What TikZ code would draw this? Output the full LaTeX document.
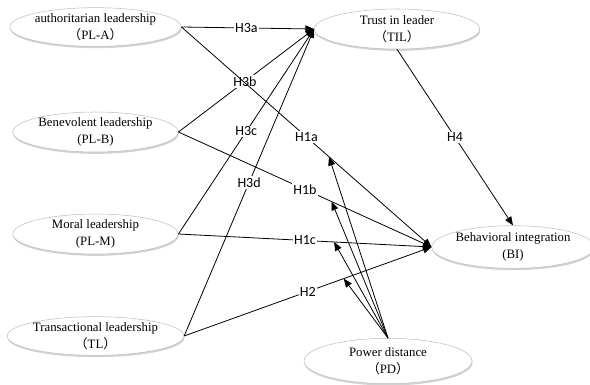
\documentclass[tikz,border=0pt]{standalone}
\usepackage{fontspec}
\setmainfont{Liberation Serif}
\newfontfamily\labfont{Carlito}
\newfontfamily\cjk{Noto Sans CJK SC}
\usepackage{tikz}
\usetikzlibrary{arrows.meta,shapes.geometric,shadows}
\definecolor{rimgray}{RGB}{190,190,190}
\newcommand{\lp}{{\cjk （}}
\newcommand{\rp}{{\cjk ）}}

\begin{document}
\begin{tikzpicture}[x=0.75pt,y=-0.75pt,
    varbox/.style={ellipse,draw=rimgray,fill=white,inner sep=0pt,
      minimum width=124pt,minimum height=29pt,align=center,
      font=\fontsize{9.6}{12.5}\selectfont,
      drop shadow={shadow xshift=0.4pt,shadow yshift=-1.4pt,opacity=0.35,fill=gray}},
    hyp/.style={fill=white,inner sep=1pt,font=\labfont\fontsize{10.5}{12}\selectfont},
    link/.style={-{Triangle[length=6.5pt,width=5.2pt]},line width=0.6pt}]
  \useasboundingbox (0,0) rectangle (590,385);
  % leadership styles
  \node[varbox] (pla) at (95.5,27) {authoritarian leadership\\\lp PL-A\rp};
  \node[varbox] (plb) at (95.5,132) {Benevolent leadership\\(PL-B)};
  \node[varbox] (plm) at (95.5,234) {Moral leadership\\(PL-M)};
  \node[varbox] (tl) at (95.5,336) {Transactional leadership\\\lp TL\rp};
  % mediator, outcome, moderator
  \node[varbox,minimum height=30pt] (til) at (397,29) {Trust in leader\\\lp TIL\rp};
  \node[varbox,minimum width=120pt,minimum height=32pt] (bi) at (513,247) {Behavioral integration\\(BI)};
  \node[varbox,minimum width=126pt,minimum height=34pt] (pd) at (388,361) {Power distance\\\lp PD\rp};

  \draw[link] (pla.east) -- node[hyp,pos=0.49] {H3a} (til.west);
  \draw[link] (plb.east) -- node[hyp,pos=0.49] {H3b} (til.west);
  \draw[link] (plm.east) -- node[hyp,pos=0.5] {H3c} (til.west);
  \draw[link] (tl.east) -- node[hyp,pos=0.5] {H3d} (til.west);

  \draw[link] (pla.east) -- node[hyp,pos=0.5] {H1a} coordinate[pos=0.59] (m1a) (bi.west);
  \draw[link] (plb.east) -- node[hyp,pos=0.5] {H1b} coordinate[pos=0.605] (m1b) (bi.west);
  \draw[link] (plm.east) -- node[hyp,pos=0.5] {H1c} coordinate[pos=0.615] (m1c) (bi.west);
  \draw[link] (tl.east) -- node[hyp,pos=0.5] {H2} coordinate[pos=0.645] (m2) (bi.west);
  \draw[link] (til.south) -- node[hyp,pos=0.5] {H4} (bi.north);

  % moderation
  \draw[link] (pd.north) -- (m1a);
  \draw[link] (pd.north) -- (m1b);
  \draw[link] (pd.north) -- (m1c);
  \draw[link] (pd.north) -- (m2);
\end{tikzpicture}
\end{document}
